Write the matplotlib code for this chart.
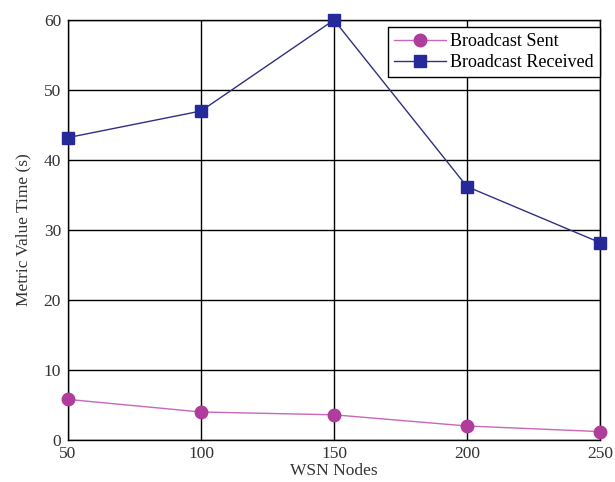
import matplotlib
matplotlib.use("Agg")
import matplotlib.pyplot as plt

nodes = [50, 100, 150, 200, 250]
broadcast_sent = [5.8, 4.0, 3.6, 2.0, 1.2]
broadcast_received = [43.2, 47.0, 60.0, 36.2, 28.2]

plt.rcParams["font.family"] = ["Liberation Serif", "DejaVu Serif"]

fig = plt.figure(figsize=(6.15, 4.82), dpi=100)
ax = fig.add_axes([68 / 615, 42 / 482, 532 / 615, 420 / 482])

ax.plot(nodes, broadcast_sent, color="#c868b8", linewidth=1.0, marker="o",
        markersize=9, markerfacecolor="#b03c9c", markeredgecolor="#b03c9c",
        label="Broadcast Sent", zorder=3, clip_on=False)
ax.plot(nodes, broadcast_received, color="#303080", linewidth=1.0, marker="s",
        markersize=8, markerfacecolor="#26299a", markeredgecolor="#26299a",
        label="Broadcast Received", zorder=3, clip_on=False)

ax.set_xlim(50, 250)
ax.set_ylim(0, 60)
ax.set_xticks(nodes)
ax.set_yticks(range(0, 61, 10))
ax.grid(True, color="black", linewidth=1.0)
ax.tick_params(length=0, labelsize=12.5, colors="#333333")
ax.tick_params(axis="y", pad=5)
ax.tick_params(axis="x", pad=4)
for s in ax.spines.values():
    s.set_color("black")
    s.set_linewidth(1.0)

ax.set_xlabel("WSN Nodes", fontsize=12.5, color="#333333", labelpad=1)
ax.set_ylabel("Metric Value Time (s)", fontsize=12.5, color="#333333", labelpad=9)

leg = ax.legend(loc="upper right", bbox_to_anchor=(1.0, 1 - 7 / 420),
                fontsize=13, frameon=True, fancybox=False,
                edgecolor="black", framealpha=1, borderpad=0.35,
                handlelength=2.9, labelspacing=0.2, borderaxespad=0,
                handletextpad=0.2)
leg.get_frame().set_linewidth(1.0)
leg.set_zorder(5)

fig.savefig("out.png", dpi=100)
